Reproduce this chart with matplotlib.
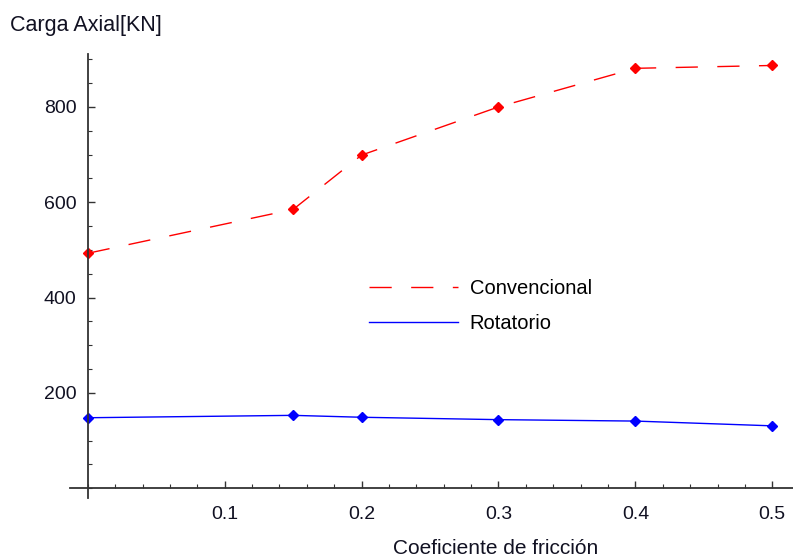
import matplotlib
matplotlib.use("Agg")
import matplotlib.pyplot as plt
from matplotlib.ticker import MultipleLocator, FixedLocator

# friction coefficient vs axial load
mu = [0.0, 0.15, 0.2, 0.3, 0.4, 0.5]
convencional = [493, 585, 699, 800, 881, 887]
rotatorio = [148, 153, 149, 144, 141, 131]

plt.rcParams['font.family'] = ['Liberation Sans', 'DejaVu Sans']

W, H = 793, 559
fig = plt.figure(figsize=(W/100, H/100), dpi=100)
ax = fig.add_axes([70/W, (H-498.3)/H, (793.5-70)/W, (498.3-54.5)/H])

red = (1, 0, 0)
blue = (0, 0, 1)
ax.plot(mu, convencional, color=red, lw=1.0, dashes=(16, 14), label='Convencional')
ax.plot(mu, convencional, ls='none', marker='D', ms=5.5, color=red)
ax.plot(mu, rotatorio, color=blue, lw=1.0, label='Rotatorio')
ax.plot(mu, rotatorio, ls='none', marker='D', ms=5.5, color=blue)

ax.set_xlim(-0.013, 0.5155)
ax.set_ylim(-21, 910)

for s in ['top', 'right']:
    ax.spines[s].set_visible(False)
for s in ['left', 'bottom']:
    ax.spines[s].set_position(('data', 0))
    ax.spines[s].set_color('#333333')
    ax.spines[s].set_linewidth(1.3)

ax.xaxis.set_major_locator(FixedLocator([0.1, 0.2, 0.3, 0.4, 0.5]))
ax.xaxis.set_minor_locator(MultipleLocator(0.02))
ax.yaxis.set_major_locator(FixedLocator([200, 400, 600, 800]))
ax.yaxis.set_minor_locator(MultipleLocator(50))
ax.set_xticklabels(['0.1', '0.2', '0.3', '0.4', '0.5'])
ax.set_yticklabels(['200', '400', '600', '800'])
ax.tick_params(which='major', direction='in', length=5, width=1, color='#333333',
               labelsize=14, labelcolor='#111122')
ax.tick_params(which='minor', direction='in', length=3, width=0.8, color='#333333')
ax.tick_params(axis='x', which='major', pad=13)
ax.tick_params(axis='y', which='major', pad=8)

fig.text(10/W, 1-25/H, 'Carga Axial[KN]', fontsize=15.5, color='#111122',
         ha='left', va='center')
fig.text(496/W, 1-548/H, 'Coeficiente de fricción', fontsize=15, color='#111122',
         ha='center', va='center')

ax.legend(loc='center left', bbox_to_anchor=((351-70)/(793.5-70), (498.3-306)/(498.3-54.5)),
          frameon=False, fontsize=14.5, handlelength=4.4, handletextpad=0.6,
          labelspacing=0.76)

fig.savefig('out.png', dpi=100)
